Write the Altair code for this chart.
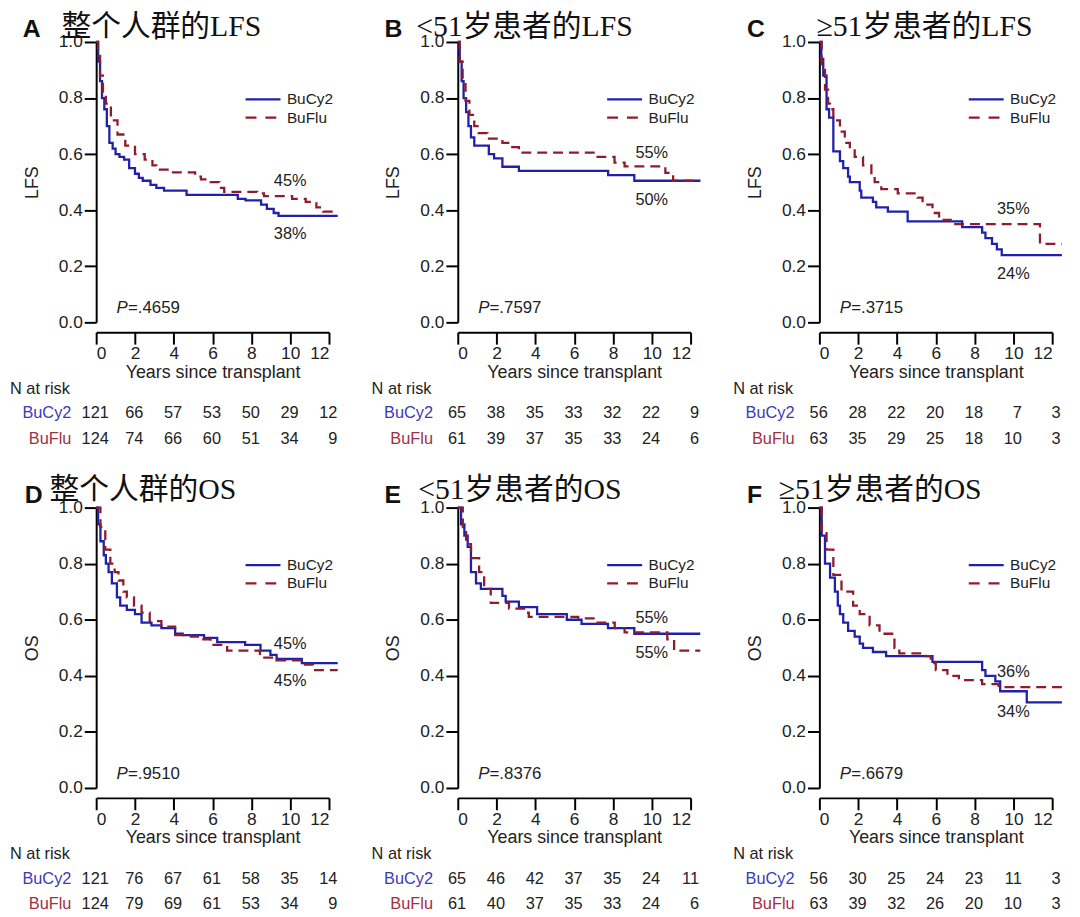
import altair as alt
import pandas as pd

# ---------------- data ----------------
years = [0, 2, 4, 6, 8, 10, 12]

# Panel A: LFS whole population
A_cy_t = [0, 0.1, 0.2, 0.3, 0.42, 0.55, 0.68, 0.85, 1.0, 1.2, 1.44, 1.7, 2.0, 2.2, 2.4, 2.8, 3.1, 3.5, 4.66, 7.3, 7.7, 8.5, 8.8, 9.15, 9.4, 12.45]
A_cy_s = [1.0, 0.93, 0.86, 0.80, 0.76, 0.70, 0.64, 0.62, 0.60, 0.59, 0.58, 0.55, 0.53, 0.515, 0.505, 0.49, 0.48, 0.47, 0.455, 0.44, 0.435, 0.42, 0.405, 0.39, 0.38, 0.38]
A_fl_t = [0, 0.1, 0.2, 0.35, 0.5, 0.76, 1.1, 1.5, 2.0, 2.5, 2.9, 3.1, 3.9, 5.1, 5.4, 5.9, 6.35, 6.6, 8.3, 8.65, 10.1, 10.8, 11.35, 11.7, 12.45]
A_fl_s = [1.0, 0.95, 0.88, 0.82, 0.78, 0.72, 0.67, 0.63, 0.60, 0.58, 0.56, 0.545, 0.535, 0.52, 0.51, 0.50, 0.48, 0.465, 0.46, 0.45, 0.44, 0.43, 0.41, 0.395, 0.395]
A_cy_n = [121, 66, 57, 53, 50, 29, 12]
A_fl_n = [124, 74, 66, 60, 51, 34, 9]

# Panel B: LFS < 51
B_cy_t = [0, 0.1, 0.2, 0.3, 0.43, 0.55, 0.68, 0.85, 1.6, 1.87, 2.3, 3.15, 7.75, 9.1, 12.5]
B_cy_s = [1.0, 0.93, 0.86, 0.80, 0.75, 0.70, 0.66, 0.63, 0.60, 0.585, 0.555, 0.54, 0.525, 0.505, 0.505]
B_fl_t = [0, 0.1, 0.25, 0.4, 0.6, 0.85, 1.02, 1.53, 2.3, 2.7, 3.15, 7.06, 8.08, 8.6, 10.7, 11.1, 12.5]
B_fl_s = [1.0, 0.93, 0.85, 0.79, 0.74, 0.70, 0.675, 0.655, 0.64, 0.625, 0.605, 0.59, 0.57, 0.556, 0.533, 0.505, 0.505]
B_cy_n = [65, 38, 35, 33, 32, 22, 9]
B_fl_n = [61, 39, 37, 35, 33, 24, 6]

# Panel C: LFS >= 51
C_cy_t = [0, 0.1, 0.2, 0.37, 0.5, 0.72, 1.06, 1.23, 1.48, 1.57, 2.08, 2.16, 2.76, 2.93, 3.53, 4.55, 7.36, 8.39, 8.56, 8.9, 9.15, 9.4, 12.5]
C_cy_s = [1.0, 0.94, 0.88, 0.76, 0.73, 0.61, 0.575, 0.55, 0.52, 0.50, 0.47, 0.445, 0.43, 0.41, 0.395, 0.36, 0.34, 0.32, 0.30, 0.28, 0.26, 0.24, 0.24]
C_fl_t = [0, 0.12, 0.29, 0.45, 0.55, 0.72, 1.06, 1.31, 1.57, 1.82, 2.25, 2.68, 2.85, 3.19, 4.04, 5.06, 5.32, 5.83, 6.17, 6.77, 11.37, 12.5]
C_fl_s = [1.0, 0.90, 0.83, 0.78, 0.76, 0.72, 0.68, 0.64, 0.62, 0.59, 0.56, 0.52, 0.50, 0.475, 0.46, 0.445, 0.42, 0.39, 0.365, 0.35, 0.28, 0.28]
C_cy_n = [56, 28, 22, 20, 18, 7, 3]
C_fl_n = [63, 35, 29, 25, 18, 10, 3]

# Panel D: OS whole population
D_cy_t = [0, 0.1, 0.22, 0.39, 0.5, 0.64, 0.81, 1.07, 1.24, 1.58, 2.0, 2.34, 2.85, 3.36, 4.07, 4.46, 5.56, 6.24, 7.68, 8.47, 8.98, 9.3, 10.6, 12.45]
D_cy_s = [1.0, 0.94, 0.88, 0.83, 0.80, 0.77, 0.73, 0.68, 0.65, 0.635, 0.62, 0.59, 0.58, 0.57, 0.55, 0.545, 0.535, 0.52, 0.51, 0.49, 0.475, 0.46, 0.445, 0.445]
D_fl_t = [0, 0.22, 0.47, 0.73, 0.95, 1.15, 1.4, 1.58, 1.95, 2.34, 2.76, 3.36, 4.07, 4.88, 5.4, 5.9, 6.75, 8.44, 9.29, 10.68, 11.18, 12.45]
D_fl_s = [1.0, 0.93, 0.85, 0.80, 0.77, 0.74, 0.70, 0.68, 0.65, 0.625, 0.595, 0.575, 0.545, 0.54, 0.53, 0.51, 0.49, 0.465, 0.455, 0.44, 0.42, 0.42]
D_cy_n = [121, 76, 67, 61, 58, 35, 14]
D_fl_n = [124, 79, 69, 61, 53, 34, 9]

# Panel E: OS < 51
E_cy_t = [0, 0.17, 0.34, 0.51, 0.68, 0.94, 1.19, 2.3, 2.47, 3.15, 4.09, 5.62, 6.38, 7.74, 9.1, 12.5]
E_cy_s = [1.0, 0.94, 0.90, 0.86, 0.77, 0.73, 0.71, 0.685, 0.665, 0.645, 0.62, 0.60, 0.585, 0.57, 0.55, 0.55]
E_fl_t = [0, 0.26, 0.43, 0.68, 1.1, 1.36, 1.7, 2.64, 3.49, 3.66, 6.21, 7.06, 8.09, 8.6, 10.8, 11.15, 12.5]
E_fl_s = [1.0, 0.93, 0.87, 0.82, 0.77, 0.71, 0.66, 0.64, 0.625, 0.61, 0.605, 0.59, 0.57, 0.555, 0.53, 0.49, 0.49]
E_cy_n = [65, 46, 42, 37, 35, 24, 11]
E_fl_n = [61, 40, 37, 35, 33, 24, 6]

# Panel F: OS >= 51
F_cy_t = [0, 0.12, 0.29, 0.55, 0.8, 0.95, 1.06, 1.23, 1.48, 1.82, 2.08, 2.25, 2.76, 3.44, 5.83, 8.39, 8.56, 9.07, 9.32, 10.69, 12.5]
F_cy_s = [1.0, 0.90, 0.80, 0.75, 0.70, 0.65, 0.62, 0.59, 0.56, 0.54, 0.515, 0.50, 0.485, 0.47, 0.45, 0.42, 0.40, 0.38, 0.345, 0.305, 0.305]
F_fl_t = [0, 0.12, 0.37, 0.72, 1.14, 1.74, 2.08, 2.59, 3.1, 3.87, 4.12, 5.49, 5.74, 6.0, 6.6, 7.19, 8.39, 9.24, 12.5]
F_fl_s = [1.0, 0.92, 0.85, 0.76, 0.70, 0.65, 0.62, 0.58, 0.55, 0.50, 0.48, 0.47, 0.445, 0.42, 0.40, 0.385, 0.37, 0.36, 0.36]
F_cy_n = [56, 30, 25, 24, 23, 11, 3]
F_fl_n = [63, 39, 32, 26, 20, 10, 3]

letters = ["A", "B", "C", "D", "E", "F"]
titles = ["整个人群的LFS", "<51岁患者的LFS", "≥51岁患者的LFS",
          "整个人群的OS", "<51岁患者的OS", "≥51岁患者的OS"]
ylabels = ["LFS", "LFS", "LFS", "OS", "OS", "OS"]
pvalues = ["=.4659", "=.7597", "=.3715", "=.9510", "=.8376", "=.6679"]
pct_cy = ["38%", "50%", "24%", "45%", "55%", "34%"]
pct_fl = ["45%", "55%", "35%", "45%", "55%", "36%"]
pct_cy_y = [0.316, 0.435, 0.174, 0.383, 0.483, 0.272]
pct_fl_y = [0.505, 0.604, 0.404, 0.513, 0.605, 0.414]
arms = ["BuCy2", "BuFlu"]

curves_cy = [(A_cy_t, A_cy_s), (B_cy_t, B_cy_s), (C_cy_t, C_cy_s), (D_cy_t, D_cy_s), (E_cy_t, E_cy_s), (F_cy_t, F_cy_s)]
curves_fl = [(A_fl_t, A_fl_s), (B_fl_t, B_fl_s), (C_fl_t, C_fl_s), (D_fl_t, D_fl_s), (E_fl_t, E_fl_s), (F_fl_t, F_fl_s)]
risk_cy = [A_cy_n, B_cy_n, C_cy_n, D_cy_n, E_cy_n, F_cy_n]
risk_fl = [A_fl_n, B_fl_n, C_fl_n, D_fl_n, E_fl_n, F_fl_n]

# ---------------- style ----------------
W, H = 235, 283
BLUE = "#2020aa"
RED = "#8e1c2c"
LBLUE = "#3b3bb5"
LRED = "#a0303f"
FONT = "Liberation Sans"
TFONT = "Liberation Serif, Noto Sans CJK SC"
letter_x = [-74, -74, -73, -72, -74, -73]
title_x = [-35, -42, -3, -47, -40, -41]
title_y = [-6, -6, -6, -9, -9, -9]

xs = alt.Scale(domain=[0, 12], nice=False, zero=False)
ys = alt.Scale(domain=[0, 1], nice=False)


def one():
    return pd.DataFrame({"k": [0]})


def panel(i):
    xaxis = alt.Axis(values=years, offset=10, tickSize=12, tickWidth=2, domainWidth=2,
                     domainColor="black", tickColor="black", labelColor="#222222",
                     labelFontSize=17.5, labelPadding=1, labelFont=FONT,
                     title="Years since transplant", titleFontSize=18, titleFont=FONT,
                     titleFontWeight="normal", titleColor="#222222", titlePadding=1, grid=False)
    yaxis = alt.Axis(values=[0, 0.2, 0.4, 0.6, 0.8, 1.0], format=".1f", tickSize=12, tickWidth=2,
                     domainWidth=2, domainColor="black", tickColor="black", labelColor="#222222",
                     labelFontSize=17.5, labelPadding=2, labelFont=FONT,
                     title=ylabels[i], titleFontSize=18, titleFont=FONT, titleFontWeight="normal",
                     titleColor="#222222", titlePadding=17, grid=False)

    def xq(field):
        return alt.X(field, type="quantitative", scale=xs, axis=xaxis)

    def yq(field):
        return alt.Y(field, type="quantitative", scale=ys, axis=yaxis)

    cy = pd.DataFrame({"t": curves_cy[i][0], "s": curves_cy[i][1]})
    fl = pd.DataFrame({"t": curves_fl[i][0], "s": curves_fl[i][1]})

    cy_line = alt.Chart(cy).mark_line(interpolate="step-after", color=BLUE, strokeWidth=2.3, clip=False).encode(
        x=xq("t"), y=yq("s"))
    fl_line = alt.Chart(fl).mark_line(interpolate="step-after", color=RED, strokeWidth=2.3,
                                      strokeDash=[10, 6], clip=False).encode(x=xq("t"), y=yq("s"))

    # legend
    leg = pd.DataFrame({"x": [7.7, 7.7], "x2": [9.5, 9.5], "tx": [9.83, 9.83],
                        "y": [0.795, 0.73], "arm": arms})
    leg_cy = alt.Chart(leg).transform_filter("datum.arm == 'BuCy2'").mark_rule(
        color=BLUE, strokeWidth=2.3).encode(x=xq("x"), x2="x2:Q", y=yq("y"))
    leg_fl = alt.Chart(leg).transform_filter("datum.arm == 'BuFlu'").mark_rule(
        color=RED, strokeWidth=2.3, strokeDash=[11, 9]).encode(x=xq("x"), x2="x2:Q", y=yq("y"))
    leg_txt = alt.Chart(leg).mark_text(align="left", baseline="middle", font=FONT, fontSize=15.5,
                                       color="#222222").encode(
        x=xq("tx"), y=yq("y"), text="arm:N")

    # percentages
    pct = pd.DataFrame({"x": [10, 10], "y": [pct_fl_y[i], pct_cy_y[i]], "lab": [pct_fl[i], pct_cy[i]]})
    pct_txt = alt.Chart(pct).mark_text(align="center", baseline="middle", font=FONT, fontSize=16.5,
                                       color="#222222").encode(x=xq("x"), y=yq("y"), text="lab:N")

    # p-value
    pv = pd.DataFrame({"x": [1.05], "y": [0.05], "p": ["P"], "v": [pvalues[i]]})
    p_txt = alt.Chart(pv).mark_text(align="left", baseline="middle", font=FONT, fontSize=17,
                                    fontStyle="italic", color="#222222").encode(x=xq("x"), y=yq("y"), text="p:N")
    v_txt = alt.Chart(pv).mark_text(align="left", baseline="middle", font=FONT, fontSize=17, dx=11.5,
                                    color="#222222").encode(x=xq("x"), y=yq("y"), text="v:N")

    # number at risk
    risk = pd.DataFrame({"t": years * 2, "n": risk_cy[i] + risk_fl[i],
                         "arm": ["BuCy2"] * 7 + ["BuFlu"] * 7})
    risk_layers = []
    for arm, yy in (("BuCy2", H + 91.5), ("BuFlu", H + 117.5)):
        big = alt.Chart(risk).transform_filter(f"datum.arm == '{arm}' && datum.n >= 100").mark_text(
            align="center", baseline="middle", font=FONT, fontSize=16.5, color="#222222", dx=-1).encode(
            x=xq("t"), y=alt.value(yy), text="n:Q")
        small = alt.Chart(risk).transform_filter(f"datum.arm == '{arm}' && datum.n < 100").mark_text(
            align="right", baseline="middle", font=FONT, fontSize=16.5, color="#222222", dx=8.5).encode(
            x=xq("t"), y=alt.value(yy), text="n:Q")
        risk_layers += [big, small]

    nrisk = alt.Chart(one()).mark_text(align="left", baseline="middle", font=FONT, fontSize=16.5,
                                       color="#222222").encode(
        x=alt.value(-87), y=alt.value(H + 67), text=alt.value("N at risk"))
    lab_cy = alt.Chart(one()).mark_text(align="right", baseline="middle", font=FONT, fontSize=16.5,
                                        color=LBLUE).encode(
        x=alt.value(-25), y=alt.value(H + 91.5), text=alt.value("BuCy2"))
    lab_fl = alt.Chart(one()).mark_text(align="right", baseline="middle", font=FONT, fontSize=16.5,
                                        color=LRED).encode(
        x=alt.value(-25), y=alt.value(H + 117.5), text=alt.value("BuFlu"))

    # titles
    let = alt.Chart(one()).mark_text(align="left", baseline="alphabetic", font=FONT, fontSize=25,
                                     fontWeight="bold", color="#111111").encode(
        x=alt.value(letter_x[i]), y=alt.value(-5), text=alt.value(letters[i]))
    ttl = alt.Chart(one()).mark_text(align="left", baseline="alphabetic", font=TFONT, fontSize=30,
                                     color="#111111").encode(
        x=alt.value(title_x[i]), y=alt.value(title_y[i]), text=alt.value(titles[i]))

    return alt.layer(cy_line, fl_line, leg_cy, leg_fl, leg_txt, pct_txt, p_txt, v_txt,
                     *risk_layers, nrisk, lab_cy, lab_fl, let, ttl).properties(width=W, height=H)


charts = [panel(i) for i in range(6)]
chart = alt.concat(*charts, columns=3, spacing={"row": 187, "column": 130}, bounds="flush").properties(
    padding={"left": 2, "top": 0, "right": 5, "bottom": 5}
).configure_view(stroke=None)

chart.save("out.html", embed_options={"renderer": "svg", "actions": False})
